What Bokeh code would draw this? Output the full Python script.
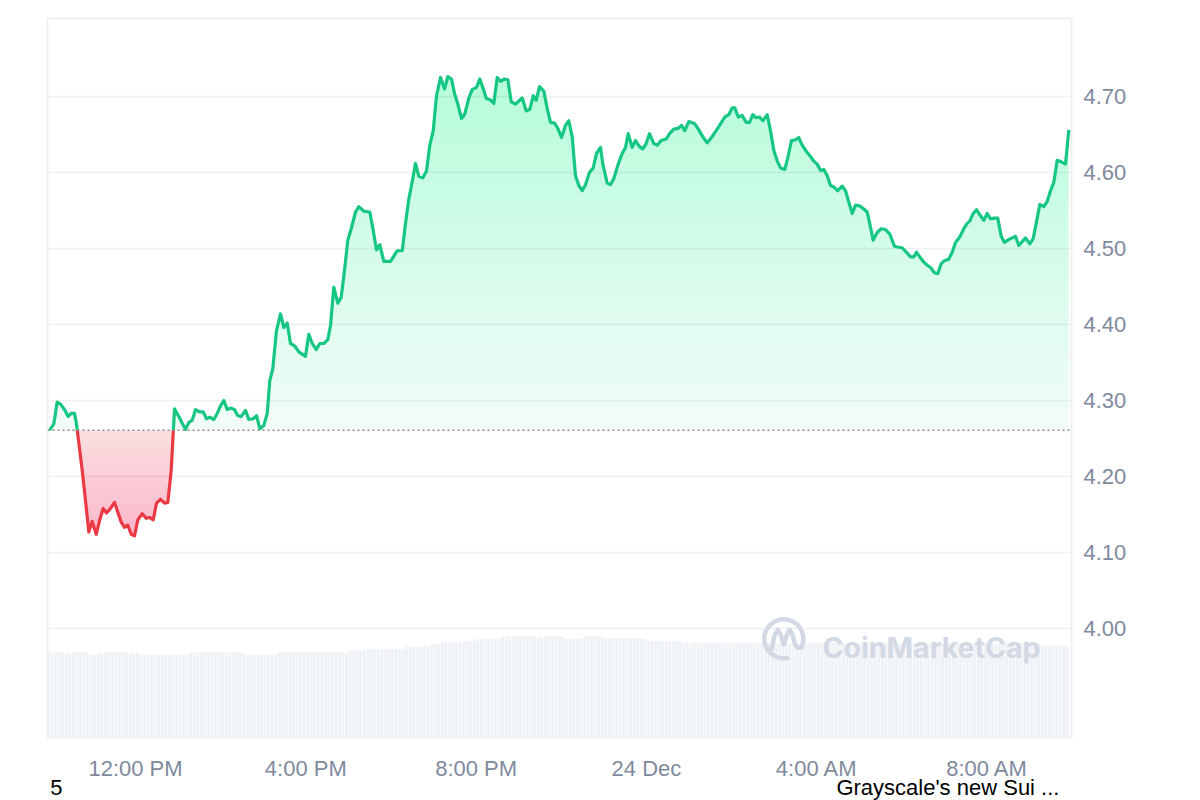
import numpy as np
from bokeh.plotting import figure
from bokeh.models import Range1d, FixedTicker, Span, Label, NumeralTickFormatter, LinearAxis
from bokeh.embed import file_html
from bokeh.resources import INLINE

# ---------------- data ----------------
# time in hours since 00:00 on 23 Dec
TIMES = [
    9.980, 10.081, 10.161, 10.239, 10.333, 10.419, 10.490, 10.567, 10.614, 10.748,
    10.826, 10.903, 10.983, 11.077, 11.155, 11.241, 11.319, 11.413, 11.507, 11.584,
    11.664, 11.742, 11.819, 11.899, 11.977, 12.054, 12.157, 12.251, 12.336, 12.416,
    12.493, 12.587, 12.681, 12.759, 12.838, 12.916, 13.017, 13.097, 13.174, 13.252,
    13.332, 13.409, 13.503, 13.590, 13.667, 13.745, 13.839, 13.919, 13.996, 14.074,
    14.154, 14.247, 14.325, 14.403, 14.482, 14.583, 14.661, 14.764, 14.842, 14.919,
    15.013, 15.093, 15.154, 15.224, 15.311, 15.405, 15.483, 15.563, 15.640, 15.734,
    15.835, 15.992, 16.070, 16.150, 16.244, 16.328, 16.422, 16.516, 16.580, 16.657,
    16.751, 16.831, 16.916, 16.986, 17.066, 17.167, 17.244, 17.362, 17.503, 17.582,
    17.660, 17.737, 17.831, 17.989, 18.146, 18.264, 18.341, 18.419, 18.513, 18.576,
    18.654, 18.747, 18.834, 18.912, 18.992, 19.069, 19.163, 19.257, 19.334, 19.421,
    19.492, 19.569, 19.656, 19.734, 19.828, 19.908, 20.008, 20.086, 20.166, 20.243,
    20.321, 20.415, 20.495, 20.572, 20.666, 20.744, 20.824, 20.924, 21.002, 21.082,
    21.176, 21.260, 21.340, 21.410, 21.488, 21.589, 21.669, 21.746, 21.840, 21.918,
    22.005, 22.099, 22.176, 22.256, 22.333, 22.411, 22.491, 22.568, 22.662, 22.749,
    22.827, 22.921, 22.975, 23.078, 23.155, 23.233, 23.336, 23.430, 23.508, 23.571,
    23.665, 23.743, 23.836, 23.914, 23.994, 24.071, 24.172, 24.252, 24.346, 24.463,
    24.541, 24.642, 24.745, 24.823, 24.900, 24.994, 25.135, 25.229, 25.323, 25.426,
    25.527, 25.638, 25.739, 25.840, 25.934, 26.014, 26.075, 26.154, 26.248, 26.342,
    26.420, 26.497, 26.577, 26.655, 26.732, 26.836, 26.913, 26.991, 27.071, 27.148,
    27.249, 27.329, 27.406, 27.500, 27.578, 27.657, 27.751, 27.852, 27.930, 28.009,
    28.087, 28.165, 28.244, 28.322, 28.399, 28.493, 28.597, 28.674, 28.752, 28.832,
    28.909, 29.010, 29.104, 29.184, 29.261, 29.324, 29.418, 29.512, 29.613, 29.714,
    29.825, 29.888, 30.005, 30.106, 30.200, 30.278, 30.341, 30.419, 30.513, 30.593,
    30.670, 30.764, 30.842, 30.922, 30.999, 31.100, 31.180, 31.258, 31.358, 31.452,
    31.532, 31.593, 31.673, 31.751, 31.845, 31.922, 32.002, 32.080, 32.174, 32.250,
    32.331, 32.408, 32.486, 32.589, 32.667, 32.744, 32.824, 32.902, 33.003, 33.082,
    33.160, 33.238, 33.332, 33.412, 33.489, 33.567, 33.646, 33.740, 33.841, 33.919,
]
PRICES = [
    4.261, 4.269, 4.298, 4.295, 4.288, 4.279, 4.283, 4.283, 4.269, 4.208,
    4.168, 4.127, 4.141, 4.124, 4.142, 4.158, 4.152, 4.158, 4.166, 4.153,
    4.140, 4.133, 4.136, 4.124, 4.122, 4.143, 4.151, 4.145, 4.146, 4.143,
    4.165, 4.170, 4.165, 4.166, 4.208, 4.289, 4.279, 4.270, 4.262, 4.271,
    4.274, 4.288, 4.285, 4.285, 4.276, 4.278, 4.275, 4.283, 4.293, 4.300,
    4.288, 4.290, 4.288, 4.280, 4.279, 4.287, 4.275, 4.276, 4.280, 4.263,
    4.267, 4.283, 4.326, 4.342, 4.392, 4.414, 4.396, 4.402, 4.375, 4.372,
    4.364, 4.358, 4.387, 4.375, 4.367, 4.375, 4.375, 4.380, 4.399, 4.449,
    4.428, 4.436, 4.475, 4.511, 4.526, 4.548, 4.555, 4.549, 4.548, 4.524,
    4.498, 4.505, 4.483, 4.483, 4.497, 4.497, 4.533, 4.565, 4.592, 4.612,
    4.595, 4.593, 4.602, 4.636, 4.655, 4.701, 4.725, 4.710, 4.726, 4.723,
    4.704, 4.690, 4.671, 4.677, 4.698, 4.709, 4.712, 4.723, 4.710, 4.697,
    4.696, 4.691, 4.725, 4.720, 4.723, 4.722, 4.693, 4.690, 4.694, 4.698,
    4.681, 4.683, 4.701, 4.695, 4.713, 4.707, 4.684, 4.666, 4.665, 4.658,
    4.646, 4.662, 4.668, 4.647, 4.596, 4.583, 4.576, 4.584, 4.600, 4.606,
    4.625, 4.633, 4.611, 4.586, 4.584, 4.592, 4.611, 4.625, 4.633, 4.651,
    4.633, 4.642, 4.634, 4.631, 4.638, 4.651, 4.638, 4.636, 4.642, 4.644,
    4.651, 4.657, 4.658, 4.662, 4.655, 4.667, 4.664, 4.656, 4.647, 4.639,
    4.646, 4.655, 4.664, 4.673, 4.676, 4.685, 4.685, 4.673, 4.675, 4.666,
    4.666, 4.676, 4.672, 4.673, 4.668, 4.676, 4.655, 4.629, 4.615, 4.606,
    4.604, 4.622, 4.642, 4.643, 4.646, 4.636, 4.628, 4.621, 4.615, 4.611,
    4.603, 4.604, 4.596, 4.583, 4.581, 4.576, 4.582, 4.576, 4.561, 4.546,
    4.557, 4.556, 4.552, 4.548, 4.528, 4.511, 4.521, 4.526, 4.525, 4.519,
    4.503, 4.502, 4.501, 4.495, 4.489, 4.489, 4.495, 4.489, 4.482, 4.478,
    4.475, 4.468, 4.467, 4.480, 4.484, 4.486, 4.495, 4.508, 4.515, 4.526,
    4.533, 4.536, 4.546, 4.551, 4.543, 4.537, 4.546, 4.539, 4.540, 4.540,
    4.516, 4.508, 4.511, 4.514, 4.516, 4.504, 4.509, 4.514, 4.506, 4.513,
    4.535, 4.558, 4.555, 4.562, 4.576, 4.587, 4.616, 4.614, 4.611, 4.656,
]
BASE_PRICE = 4.261  # opening price (dotted reference line)

# volume bars: one per 5 minutes starting at 09:55 on 23 Dec (relative units)
VOL_START_HOUR = 9.9167
VOL_STEP_HOURS = 5 / 60
VOLUME = [
    8.70, 8.50, 8.50, 8.50, 8.50, 8.50, 8.50, 8.50, 8.50, 8.50, 8.50, 8.50, 8.27, 8.27, 8.50, 8.50, 8.50, 8.50, 8.50, 8.50, 8.50, 8.50, 8.50, 8.50,
    8.50, 8.50, 8.27, 8.27, 8.27, 8.27, 8.27, 8.27, 8.27, 8.27, 8.27, 8.27, 8.27, 8.27, 8.27, 8.27, 8.50, 8.50, 8.50, 8.50, 8.50, 8.50, 8.50, 8.50,
    8.50, 8.50, 8.50, 8.50, 8.50, 8.50, 8.50, 8.50, 8.27, 8.27, 8.27, 8.27, 8.27, 8.27, 8.27, 8.27, 8.27, 8.50, 8.50, 8.50, 8.50, 8.50, 8.50, 8.50,
    8.50, 8.50, 8.50, 8.50, 8.50, 8.50, 8.50, 8.50, 8.50, 8.50, 8.50, 8.50, 8.50, 8.66, 8.66, 8.66, 8.66, 8.83, 8.83, 8.83, 8.83, 8.83, 8.83, 8.83,
    8.83, 8.83, 8.83, 8.83, 8.83, 9.10, 9.10, 9.10, 9.10, 9.10, 9.10, 9.10, 9.30, 9.30, 9.30, 9.47, 9.47, 9.47, 9.47, 9.47, 9.63, 9.63, 9.63, 9.63,
    9.63, 9.87, 9.87, 9.87, 9.87, 9.87, 9.87, 9.87, 10.10, 10.10, 10.10, 10.10, 10.10, 10.10, 10.10, 10.10, 10.10, 10.10, 10.10, 10.10, 10.10, 10.10, 10.10, 10.10,
    10.10, 10.10, 9.87, 9.87, 9.87, 9.87, 9.87, 10.10, 10.10, 10.10, 10.10, 10.10, 10.10, 9.93, 9.93, 9.93, 9.93, 9.93, 9.93, 9.93, 9.93, 9.93, 9.93, 9.93,
    9.93, 9.63, 9.63, 9.63, 9.63, 9.63, 9.63, 9.63, 9.63, 9.63, 9.63, 9.43, 9.43, 9.43, 9.43, 9.43, 9.43, 9.43, 9.43, 9.43, 9.43, 9.43, 9.43, 9.43,
    9.43, 9.43, 9.43, 9.43, 9.43, 9.43, 9.43, 9.43, 9.43, 9.43, 9.43, 9.43, 9.43, 9.43, 9.43, 9.43, 9.43, 9.43, 9.43, 9.43, 9.43, 9.43, 9.43, 9.43,
    9.43, 9.43, 9.43, 9.43, 9.43, 9.43, 9.43, 9.43, 9.43, 9.43, 9.43, 9.43, 9.43, 9.43, 9.43, 9.43, 9.43, 9.43, 9.43, 9.43, 9.43, 9.43, 9.43, 9.43,
    9.43, 9.43, 9.43, 9.43, 9.43, 9.43, 9.43, 9.43, 9.43, 9.43, 9.43, 9.43, 9.43, 9.43, 9.43, 9.43, 9.43, 9.43, 9.43, 9.43, 9.43, 9.43, 9.43, 9.43,
    9.43, 9.43, 9.43, 9.43, 9.43, 9.43, 9.43, 9.43, 9.43, 9.43, 9.43, 9.43, 9.43, 9.43, 9.43, 9.43, 9.20, 9.20, 9.20, 9.20, 9.20, 9.20, 9.20, 9.20,
]

X_TICKS = [12, 16, 20, 24, 28, 32]
X_TICK_LABELS = ["12:00 PM", "4:00 PM", "8:00 PM", "24 Dec", "4:00 AM", "8:00 AM"]
Y_TICKS = [4.0, 4.1, 4.2, 4.3, 4.4, 4.5, 4.6, 4.7]

NEWS_TEXTS = ["5", "Grayscale's new Sui ..."]
NEWS_HOURS = [10.144, 31.08]   # centre of each news caption

# ---------------- styling ----------------
GREEN = "#16c784"
RED = "#ea3943"
AXIS_GRAY = "#808a9d"
GRID = "#eff0f2"
FONT = "Liberation Sans"

X_MIN, X_MAX = 9.933, 33.982
Y_MIN, Y_MAX = 3.8566, 4.8026
HPX = 1024 / (X_MAX - X_MIN)   # pixels per hour
PPX = 719 / (Y_MAX - Y_MIN)    # pixels per price unit

p = figure(
    frame_width=1024, frame_height=719,
    min_border_left=47, min_border_right=129, min_border_top=18, min_border_bottom=63,
    x_range=Range1d(X_MIN, X_MAX), y_range=Range1d(Y_MIN, Y_MAX),
    y_axis_location="right", output_backend="svg", toolbar_location=None,
    background_fill_color="white", border_fill_color="white",
)
p.extra_y_ranges = {"vol": Range1d(0, 71.9)}
p.outline_line_color = GRID
p.outline_line_width = 2

# axes
for ax in (p.xaxis[0], p.yaxis[0]):
    ax.axis_line_color = None
    ax.major_tick_line_color = None
    ax.minor_tick_line_color = None
    ax.major_tick_out = 0
    ax.major_tick_in = 0
    ax.major_label_text_font = FONT
    ax.major_label_text_font_size = "22px"
    ax.major_label_text_color = AXIS_GRAY
p.xaxis[0].ticker = FixedTicker(ticks=X_TICKS)
p.xaxis[0].major_label_overrides = dict(zip(X_TICKS, X_TICK_LABELS))
p.xaxis[0].major_label_standoff = 18
p.yaxis[0].ticker = FixedTicker(ticks=Y_TICKS)
p.yaxis[0].formatter = NumeralTickFormatter(format="0.00")
p.yaxis[0].major_label_standoff = 12
p.xgrid.visible = False
p.ygrid.grid_line_color = GRID
p.ygrid.grid_line_width = 1.5

# news captions as a second row below the time axis
news_axis = LinearAxis(ticker=FixedTicker(ticks=NEWS_HOURS),
                       major_label_overrides=dict(zip(NEWS_HOURS, NEWS_TEXTS)),
                       axis_line_color=None, major_tick_line_color=None,
                       minor_tick_line_color=None, major_tick_out=0, major_tick_in=0,
                       major_label_standoff=-9, major_label_text_font=FONT,
                       major_label_text_font_size="22px", major_label_text_color="black")
p.add_layout(news_axis, "below")

# volume bars
vol = np.array(VOLUME)
vol_x = VOL_START_HOUR + (np.arange(len(vol)) + 0.5) * VOL_STEP_HOURS
p.vbar(x=vol_x, top=vol, bottom=0, width=VOL_STEP_HOURS * 0.8, y_range_name="vol",
       fill_color="#eef1f5", line_color=None)

# price path with baseline crossings inserted
t = np.array(TIMES)
pr = np.array(PRICES)
xs, ys = [t[0]], [pr[0]]
for i in range(1, len(t)):
    a, b = pr[i - 1] - BASE_PRICE, pr[i] - BASE_PRICE
    if a * b < 0:
        f = a / (a - b)
        xs.append(t[i - 1] + f * (t[i] - t[i - 1]))
        ys.append(BASE_PRICE)
    xs.append(t[i])
    ys.append(pr[i])
xs = np.array(xs)
ys = np.array(ys)
up = np.maximum(ys, BASE_PRICE)
dn = np.minimum(ys, BASE_PRICE)

# green gradient (stronger towards the top)
p.varea(x=xs, y1=np.full_like(xs, BASE_PRICE), y2=up, fill_color=GREEN, fill_alpha=0.06)
for lv in np.linspace(BASE_PRICE, up.max(), 31)[1:]:
    p.varea(x=xs, y1=np.full_like(xs, lv), y2=np.maximum(up, lv), fill_color=GREEN, fill_alpha=0.009)
# red gradient (stronger towards the bottom)
p.varea(x=xs, y1=dn, y2=np.full_like(xs, BASE_PRICE), fill_color=RED, fill_alpha=0.17)
for lv in np.linspace(BASE_PRICE, dn.min(), 21)[1:]:
    p.varea(x=xs, y1=np.minimum(dn, lv), y2=np.full_like(xs, lv), fill_color=RED, fill_alpha=0.0085)

# price lines
p.line(xs, np.where(ys >= BASE_PRICE, ys, np.nan), line_color=GREEN, line_width=3.2, line_join="round")
p.line(xs, np.where(ys <= BASE_PRICE, ys, np.nan), line_color=RED, line_width=3.2, line_join="round")

# dotted opening-price line
p.add_layout(Span(location=BASE_PRICE, dimension="width", line_color="#8c8c8c",
                  line_width=1.5, line_dash="2 3"))

# watermark (logo ring + wave, then name)
WM = "#d3d9e4"
logo_h = X_MIN + (783.3 - 47) / HPX
logo_p = Y_MAX - (638.3 - 18) / PPX
p.arc(x=[logo_h], y=[logo_p], radius=19.5, radius_units="screen",
      start_angle=-0.55, end_angle=-1.3, direction="anticlock",
      line_color=WM, line_width=4.5)
wave_dx = np.array([-12, -9.5, -6, -3, 0, 3, 6, 9, 11, 14, 18])
wave_dy = np.array([10, -3, -9, -4, 6, -4, -9, -3, 5, 9, 8])
p.line(logo_h + wave_dx / HPX, logo_p - wave_dy / PPX, line_color=WM, line_width=4.5,
       line_join="round", line_cap="round")
p.add_layout(Label(x=X_MIN + (822 - 47) / HPX, y=Y_MAX - (647 - 18) / PPX,
                   text="CoinMarketCap", text_font="Inter", text_font_size="28.5px",
                   text_font_style="bold", text_color=WM, text_baseline="alphabetic"))

open("out.html", "w").write(file_html(p, INLINE))
